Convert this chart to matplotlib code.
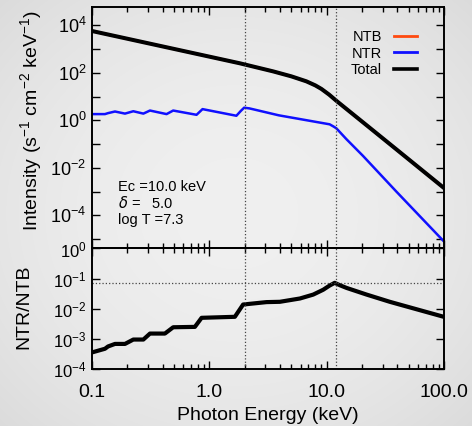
import numpy as np
import matplotlib
matplotlib.use('Agg')
import matplotlib.pyplot as plt
from matplotlib.lines import Line2D
from matplotlib.ticker import FixedLocator, NullFormatter, LogLocator

plt.rcParams['font.family'] = ['Liberation Sans', 'DejaVu Sans']
plt.rcParams['mathtext.default'] = 'regular'

# spectra (keV, s^-1 cm^-2 keV^-1)
e_total = [0.1, 1.82, 3.49, 5.0, 6.71, 8.0, 9.02, 10.5, 12.1, 17.9, 23.2,
           39.2, 100.0]
total = [5750, 251, 115, 70.8, 43.7, 29.5, 20.9, 12.0, 6.6, 1.38, 0.49,
         0.060, 0.0014]
ntb = total  # NTB sits under Total at this scale

e_ntr = [0.1, 0.129, 0.137, 0.157, 0.191, 0.225, 0.274, 0.312, 0.432, 0.492,
         0.778, 0.875, 1.70, 1.86, 1.98, 2.2, 3.9, 10.6, 11.5, 12.1, 12.8,
         14.7, 20.4, 39.2, 100.0]
ntr = [1.82, 1.82, 2.0, 2.34, 1.91, 2.40, 1.91, 2.57, 1.82, 2.57,
       1.70, 2.95, 1.55, 2.51, 3.39, 3.16, 1.62, 0.676, 0.537, 0.457, 0.339,
       0.162, 0.0316, 0.0010, 7.8e-6]

# NTR/NTB ratio (bottom panel)
e_ratio = [0.1, 0.129, 0.137, 0.157, 0.191, 0.225, 0.274, 0.312, 0.418, 0.492,
           0.753, 0.859, 1.65, 1.94, 3.07, 3.99, 5.92, 7.68, 9.34, 10.6, 11.7,
           13.0, 14.8, 21.9, 34.5, 41.8, 100.0]
ratio = [3.55e-4, 4.7e-4, 5.6e-4, 6.8e-4, 6.8e-4, 9.5e-4, 9.5e-4, 1.5e-3,
         1.5e-3, 2.43e-3, 2.5e-3, 5.0e-3, 5.4e-3, 1.38e-2, 1.66e-2, 1.70e-2,
         2.19e-2, 2.95e-2, 4.27e-2, 5.89e-2, 7.24e-2, 6.0e-2, 4.9e-2,
         2.95e-2, 1.70e-2, 1.38e-2, 5.37e-3]

edges = [2.0, 12.0]
ratio_ref = 0.07
params = ['Ec =10.0 keV', r'$\mathit{\delta}$ =   5.0', 'log T =7.3']

bg = '#ebebeb'
fig = plt.figure(figsize=(4.72, 4.26), dpi=100, facecolor=bg)

# soft grey vignette behind everything
h, w = 426, 472
yy, xx = np.mgrid[0:h, 0:w]
r = np.hypot((xx - w / 2) / (w / 2), (yy - h / 2) / (h / 2)) / np.sqrt(2)
shade = 0.94 - 0.08 * r ** 2
fig.figimage(np.dstack([shade] * 3), xo=0, yo=0, zorder=-10)

ax1 = fig.add_axes([0.1949, 0.4167, 0.7458, 0.5657], facecolor='none')
ax2 = fig.add_axes([0.1949, 0.1338, 0.7458, 0.2829], facecolor='none', sharex=ax1)

ax1.plot(e_total, ntb, color='#ff4a10', lw=2.0)
ax1.plot(e_ntr, ntr, color='#1010ff', lw=1.8)
ax1.plot(e_total, total, color='black', lw=2.9)
ax2.plot(e_ratio, ratio, color='black', lw=3.0)

for ax in (ax1, ax2):
    for e in edges:
        ax.axvline(e, color='#444444', ls=':', lw=0.9)
ax2.axhline(ratio_ref, color='#444444', ls=':', lw=0.9)

ax1.set_xscale('log')
ax1.set_yscale('log')
ax2.set_yscale('log')
ax1.set_xlim(0.1, 100)
ax1.set_ylim(10**-5.40, 10**4.75)
ax2.set_ylim(1e-4, 1)

for ax in (ax1, ax2):
    for s in ax.spines.values():
        s.set_linewidth(1.4)
    ax.tick_params(which='both', direction='in', top=True, right=True, width=1.0)
    ax.tick_params(which='major', length=6)
    ax.tick_params(which='minor', length=3.5)
    ax.xaxis.set_major_locator(FixedLocator([0.1, 1, 10, 100]))
    ax.xaxis.set_minor_locator(LogLocator(base=10, subs=np.arange(2, 10)))
    ax.xaxis.set_minor_formatter(NullFormatter())

ax1.tick_params(axis='x', labelbottom=False)
ax1.yaxis.set_major_locator(FixedLocator([10.0**k for k in range(-5, 5)]))
ax1.yaxis.set_minor_locator(FixedLocator([]))
ax1.set_yticklabels(['' if k % 2 else r'$10^{%d}$' % k for k in range(-5, 5)])
ax1.tick_params(axis='y', labelsize=13, pad=4)

ax2.yaxis.set_major_locator(FixedLocator([1e-4, 1e-3, 1e-2, 1e-1, 1]))
ax2.yaxis.set_minor_locator(LogLocator(base=10, subs=np.arange(2, 10)))
ax2.yaxis.set_minor_formatter(NullFormatter())
ax2.set_yticklabels([r'$10^{%d}$' % k for k in range(-4, 1)])
ax2.tick_params(axis='y', labelsize=12, pad=4)
ax2.set_xticklabels(['0.1', '1.0', '10.0', '100.0'])
ax2.tick_params(axis='x', labelsize=14, pad=11)

ax1.set_ylabel(r'Intensity (s$^{-1}$ cm$^{-2}$ keV$^{-1}$)', fontsize=14)
ax1.yaxis.set_label_coords(-0.135, 0.53)
ax2.set_ylabel('NTR/NTB', fontsize=14)
ax2.yaxis.set_label_coords(-0.168, 0.52)
ax2.set_xlabel('Photon Energy (keV)', fontsize=14, labelpad=4)

handles = [Line2D([], [], color='#ff4a10', lw=2.0),
           Line2D([], [], color='#1010ff', lw=2.0),
           Line2D([], [], color='black', lw=2.6)]
ax1.legend(handles, ['NTB', 'NTR', 'Total'], loc='upper right',
           bbox_to_anchor=(0.923, 0.905), frameon=False, markerfirst=False,
           fontsize=10.5, handlelength=1.6, handletextpad=0.8,
           labelspacing=0.15, borderpad=0, borderaxespad=0)

for i, s in enumerate(params):
    ax1.text(0.074, 0.256 - i * 0.069, s, transform=ax1.transAxes,
             fontsize=10.5, va='center', ha='left')

fig.savefig('out.png', dpi=100, facecolor=bg)
